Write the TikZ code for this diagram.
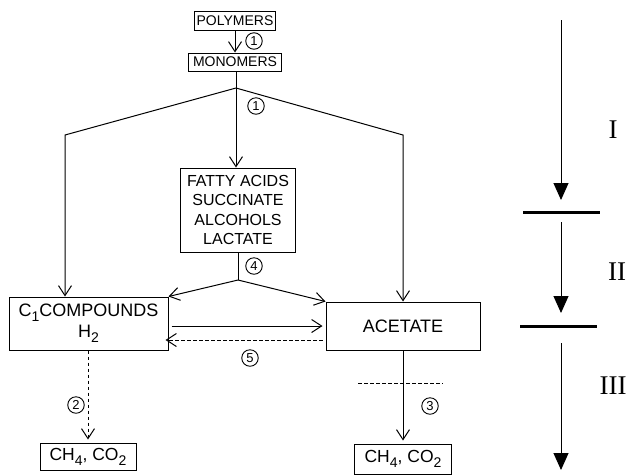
\documentclass[tikz,border=0pt]{standalone}
\usepackage{fontspec}
\setmainfont{Liberation Sans}
\newfontfamily\romfont{Liberation Serif}
\usetikzlibrary{arrows.meta}
\newcommand\lowsub[1]{\raisebox{-0.55ex}{\fontsize{14}{14}\selectfont #1}}
\newcommand\fs[1]{\fontsize{#1}{#1}\selectfont}
\begin{document}
\begin{tikzpicture}[x=1pt, y=-1pt,
    box/.style={draw, line width=1pt, inner sep=1pt, align=center},
    num/.style={draw, circle, line width=0.9pt, inner sep=0.5pt,
      minimum size=16.5pt, font=\fs{13}},
    arr/.style={line width=1pt, -{Straight Barb[length=10pt,width=13pt]}},
    dsh/.style={dash pattern=on 3.5pt off 2.5pt},
    phase/.style={line width=1pt, -{Triangle[length=17pt,width=15pt]}},
    bar/.style={line width=3pt},
    roman/.style={font=\romfont\fs{27}}
  ]
    \useasboundingbox (0,0) rectangle (631,475);
    \node[box, font=\fs{14}, minimum width=81pt, minimum height=19pt] (poly) at (235,21) {POLYMERS};
    \node[box, font=\fs{14}, minimum width=93pt, minimum height=18pt] (mono) at (235,62) {MONOMERS};
    \node[box, font=\fs{16}, minimum width=115pt, minimum height=84pt] (fatty) at (238,210)
      {FATTY ACIDS\\[3.5pt] SUCCINATE\\[3.5pt] ALCOHOLS\\[3.5pt] LACTATE};
    \node[box, font=\fs{18}, minimum width=159pt, minimum height=53pt] (c1) at (88.5,323.5)
      {C\lowsub{1}COMPOUNDS\\[3pt] H\lowsub{2}};
    \node[box, font=\fs{18}, minimum width=154pt, minimum height=48pt] (act) at (403,326) {ACETATE};
    \node[box, font=\fs{17.5}, minimum width=96pt, minimum height=27pt] (ch4a) at (88,456.5)
      {CH\lowsub{4}, CO\lowsub{2}};
    \node[box, font=\fs{17.5}, minimum width=97pt, minimum height=30pt] (ch4b) at (403,459)
      {CH\lowsub{4}, CO\lowsub{2}};
    \draw[arr] (poly) -- (mono);
    \node[num] (n1a) at (254,41) {1};
    \coordinate (split) at (236,88);
    \coordinate (lcorner) at (65,135);
    \coordinate (rcorner) at (403,135);
    \draw[line width=1pt] (mono.south -| split) -- (split);
    \draw[arr] (split) -- (split |- fatty.north);
    \draw[arr] (split) -- (lcorner) -- (lcorner |- c1.north);
    \draw[arr] (split) -- (rcorner) -- (rcorner |- act.north);
    \node[num] (n1b) at (256,106) {1};
    \coordinate (split2) at (238,280);
    \draw[line width=1pt] (fatty.south) -- (split2);
    \draw[arr] (split2) -- (c1.north east);
    \draw[arr] (split2) -- (act.north west);
    \node[num] (n4) at (254,266) {4};
    \draw[arr] ([xshift=3pt]c1.east |- act.west) -- ([xshift=-3pt]act.west);
    \draw[arr, dsh] ([shift={(-3pt,-14pt)}]act.west) -- ([shift={(-3pt,-14pt)}]act.west -| c1.east);
    \node[num] (n5) at (250,358) {5};
    \draw[arr, dsh] (c1.south -| ch4a) -- ([yshift=3pt]ch4a.north);
    \node[num] (n2) at (76,405) {2};
    \draw[arr] (act.south -| ch4b) -- ([yshift=3pt]ch4b.north);
    \draw[line width=1pt, dsh] (358,383) -- (443,383);
    \node[num] (n3) at (430,406) {3};
    \coordinate (s1) at (561,20);
    \coordinate (e1) at (561,200);
    \coordinate (s2) at (561,222);
    \coordinate (e2) at (561,313);
    \coordinate (s3) at (561,343);
    \coordinate (e3) at (561,470);
    \draw[phase] (s1) -- (e1);
    \draw[phase] (s2) -- (e2);
    \draw[phase] (s3) -- (e3);
    \draw[bar] (523,212) -- (600,212);
    \draw[bar] (520,326) -- (597,326);
    \node[roman] (ph1) at (613,130) {I};
    \node[roman] (ph2) at (617,272) {II};
    \node[roman] (ph3) at (613,386) {III};
  \end{tikzpicture}
\end{document}
